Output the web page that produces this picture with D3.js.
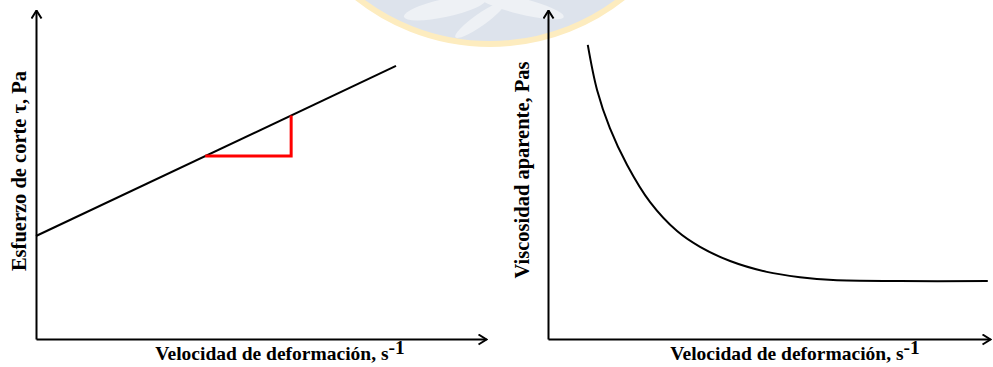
<!DOCTYPE html>
<html>
<head>
	<meta charset="utf-8">
	<title>Fluido plástico de Bingham / viscosidad aparente</title>
	<script src="https://d3js.org/d3.v7.min.js"></script>
	<style>
		body { margin: 0; background: #fff; }
		.label { font-family: 'Liberation Serif', 'Times New Roman', serif; font-weight: bold; fill: #000; }
		.axis path { stroke: #000; stroke-width: 2; }
		.curve { fill: none; stroke: #000; stroke-width: 2; }
		.slope { fill: none; stroke: #ff0000; stroke-width: 3; }
	</style>
</head>
<body>
<div id="chart"></div>
<script>
	// Left panel: shear stress vs shear rate (straight line with yield stress).
	const rateLeft = [0, 8];
	const stressLeft = [3.13, 8.3];
	// Slope marker between these two shear rates.
	const slopeRates = [3.76, 5.67];

	// Right panel: apparent viscosity vs shear rate.
	const rateRight = [0.9, 1.11, 1.4, 1.79, 2.31, 2.92, 3.44, 4.12, 4.95, 5.7, 6.45, 7.96, 9.95];
	const viscRight = [8.94, 7.57, 6.41, 5.29, 4.16, 3.28, 2.8, 2.37, 2.04, 1.88, 1.79, 1.76, 1.76];

	const xLabel = 'Velocidad de deformación, s';
	const xLabelSup = '-1';
	const yLabelLeft = 'Esfuerzo de corte τ, Pa';
	const yLabelRight = 'Viscosidad aparente, Pas';

	const W = 993, H = 367;

	const svg = d3.select('#chart').append('svg')
		.attr('width', W)
		.attr('height', H);

	// Arrow heads (open chevrons) for the axes.
	svg.append('defs').append('marker')
		.attr('id', 'arrow')
		.attr('viewBox', '0 0 10 12')
		.attr('refX', 9)
		.attr('refY', 6)
		.attr('markerWidth', 10)
		.attr('markerHeight', 12)
		.attr('markerUnits', 'userSpaceOnUse')
		.attr('orient', 'auto')
	.append('path')
		.attr('d', 'M1,1 L9,6 L1,11')
		.attr('fill', 'none')
		.attr('stroke', '#000')
		.attr('stroke-width', 2);

	// Faded logo watermark at the top.
	const wm = svg.append('g').attr('class', 'watermark');
	wm.append('circle')
		.attr('cx', 490).attr('cy', -170).attr('r', 214)
		.attr('fill', '#dde3ec')
		.attr('stroke', '#fdecbf')
		.attr('stroke-width', 6);
	wm.append('ellipse')
		.attr('cx', 445).attr('cy', 8).attr('rx', 42).attr('ry', 9)
		.attr('transform', 'rotate(-12,445,8)')
		.attr('fill', '#eef1f5');
	wm.append('ellipse')
		.attr('cx', 520).attr('cy', 6).attr('rx', 45).attr('ry', 8)
		.attr('transform', 'rotate(14,520,6)')
		.attr('fill', '#eef1f5');
	wm.append('ellipse')
		.attr('cx', 480).attr('cy', 20).attr('rx', 30).attr('ry', 6)
		.attr('transform', 'rotate(-35,480,20)')
		.attr('fill', '#eef1f5');

	function panel(x0, x1, yTop, yBottom) {
		const x = d3.scaleLinear().domain([0, 10]).range([x0, x1]);
		const y = d3.scaleLinear().domain([0, 10]).range([yBottom, yTop]);
		const g = svg.append('g');

		g.append('g')
			.attr('class', 'axis')
			.attr('transform', 'translate(0,' + yBottom + ')')
			.call(d3.axisBottom(x).ticks(0).tickSizeOuter(0))
			.select('path').attr('marker-end', 'url(#arrow)');

		g.append('g')
			.attr('class', 'axis')
			.attr('transform', 'translate(' + x0 + ',0)')
			.call(d3.axisLeft(y).ticks(0).tickSizeOuter(0))
			.select('path').attr('marker-end', 'url(#arrow)');

		return {g, x, y};
	}

	function xTitle(g, cx, baseline) {
		const t = g.append('text')
			.attr('class', 'label')
			.attr('x', cx)
			.attr('y', baseline)
			.attr('text-anchor', 'middle')
			.style('font-size', '19.5px');
		t.append('tspan').text(xLabel);
		t.append('tspan').attr('dy', -6).text(xLabelSup);
	}

	function yTitle(g, cx, cy, text) {
		g.append('text')
			.attr('class', 'label')
			.attr('transform', 'translate(' + cx + ',' + cy + ') rotate(-90)')
			.attr('text-anchor', 'middle')
			.style('font-size', '20.5px')
			.text(text);
	}

	// Left chart.
	const L = panel(36, 486, 10, 339);
	const lineL = d3.line()
		.x(d => L.x(d[0]))
		.y(d => L.y(d[1]));
	L.g.append('path')
		.attr('class', 'curve')
		.attr('d', lineL(d3.zip(rateLeft, stressLeft)));

	const stressAt = r => stressLeft[0] + (stressLeft[1] - stressLeft[0]) * (r - rateLeft[0]) / (rateLeft[1] - rateLeft[0]);
	const s0 = stressAt(slopeRates[0]), s1 = stressAt(slopeRates[1]);
	L.g.append('path')
		.attr('class', 'slope')
		.attr('d', lineL([[slopeRates[0], s0], [slopeRates[1], s0], [slopeRates[1], s1]]));

	xTitle(L.g, 280, 360);
	yTitle(L.g, 26, 171, yLabelLeft);

	// Right chart.
	const R = panel(548, 990, 10, 339);
	const lineR = d3.line()
		.x(d => R.x(d[0]))
		.y(d => R.y(d[1]))
		.curve(d3.curveCatmullRom.alpha(0.5));
	R.g.append('path')
		.attr('class', 'curve')
		.attr('d', lineR(d3.zip(rateRight, viscRight)));

	xTitle(R.g, 795, 360);
	yTitle(R.g, 529, 170, yLabelRight);
</script>
</body>
</html>
